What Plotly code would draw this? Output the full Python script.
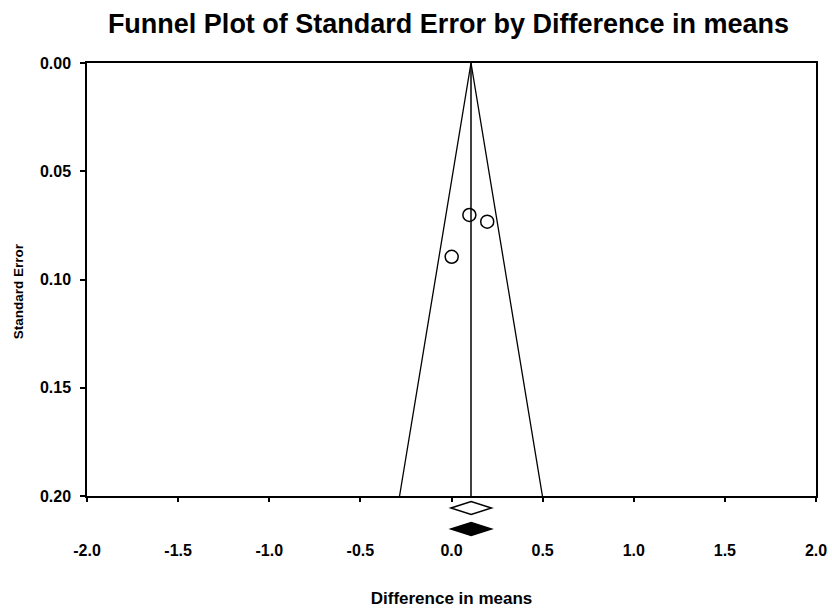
import plotly.graph_objects as go

# Study data (difference in means, standard error)
study_diff = [0.098, 0.196, 0.001]
study_se = [0.0702, 0.0733, 0.0895]

# Funnel (pooled estimate and 95% limits at SE = 0.20)
funnel_x = [-0.285, 0.107, 0.499]
funnel_se = [0.20, 0.00, 0.20]
center_x = [0.107, 0.107]
center_se = [0.00, 0.20]

# Summary diamonds: (lower, estimate, upper)
observed_diamond = [-0.003, 0.108, 0.219]
imputed_diamond = [-0.003, 0.108, 0.219]

x_ticks = [-2.0, -1.5, -1.0, -0.5, 0.0, 0.5, 1.0, 1.5, 2.0]
x_tick_labels = ["-2.0", "-1.5", "-1.0", "-0.5", "0.0", "0.5", "1.0", "1.5", "2.0"]
y_ticks = [0.00, 0.05, 0.10, 0.15, 0.20]
y_tick_labels = ["0.00", "0.05", "0.10", "0.15", "0.20"]

FONT = "Liberation Sans, Arial, sans-serif"

fig = go.Figure()
fig.add_trace(go.Scatter(x=funnel_x, y=funnel_se, mode="lines",
                         line=dict(color="black", width=1.3), hoverinfo="skip"))
fig.add_trace(go.Scatter(x=center_x, y=center_se, mode="lines",
                         line=dict(color="black", width=1.5), hoverinfo="skip"))
fig.add_trace(go.Scatter(x=study_diff, y=study_se, mode="markers",
                         marker=dict(symbol="circle-open", size=13, color="black",
                                     line=dict(width=1.5, color="black"))))

def diamond(vals, yc, hh, filled):
    lo, est, hi = vals
    path = (f"M {lo},{yc} L {est},{yc+hh} L {hi},{yc} L {est},{yc-hh} Z")
    return dict(type="path", xref="x", yref="paper", path=path,
                line=dict(color="black", width=1.5),
                fillcolor="black" if filled else "white")

fig.update_layout(
    shapes=[diamond(observed_diamond, -0.0277, 0.0150, False),
            diamond(imputed_diamond, -0.0762, 0.0150, True)],
    width=832, height=608,
    margin=dict(l=87, r=16, t=63, b=112, autoexpand=False),
    paper_bgcolor="white", plot_bgcolor="white",
    showlegend=False,
    font=dict(family=FONT, color="black"),
    title=dict(text="<b>Funnel Plot of Standard Error by Difference in means</b>",
               x=0.539, xanchor="center", y=0.961, yanchor="middle",
               font=dict(size=27, family=FONT, color="black")),
    xaxis=dict(range=[-2.0, 2.0], tickvals=x_ticks, ticktext=x_tick_labels,
               showgrid=False, zeroline=False, showline=True, linecolor="black",
               linewidth=1.5, mirror=True, ticks="outside", ticklen=4,
               tickcolor="black", tickwidth=1.5, automargin=False,
               tickfont=dict(size=16, family=FONT, weight="bold"),
               ticklabelstandoff=35,
               title=dict(text="<b>Difference in means</b>",
                          font=dict(size=17, family=FONT), standoff=36)),
    yaxis=dict(range=[0.20, 0.00], tickvals=y_ticks, ticktext=y_tick_labels,
               showgrid=False, zeroline=False, showline=True, linecolor="black",
               linewidth=1.5, mirror=True, ticks="outside", ticklen=5,
               tickcolor="black", tickwidth=1.5, automargin=False,
               ticklabelstandoff=6,
               tickfont=dict(size=16, family=FONT, weight="bold")),
    annotations=[dict(text="<b>Standard Error</b>", textangle=-90,
                      xref="paper", yref="paper", x=-0.0947, y=0.473,
                      xanchor="center", yanchor="middle", showarrow=False,
                      font=dict(size=13.5, family=FONT, color="black"))],
)

fig.write_html("out.html", config={"displayModeBar": False},
               post_script="document.body.style.margin='0px';"
                           "document.body.style.overflow='hidden';")
